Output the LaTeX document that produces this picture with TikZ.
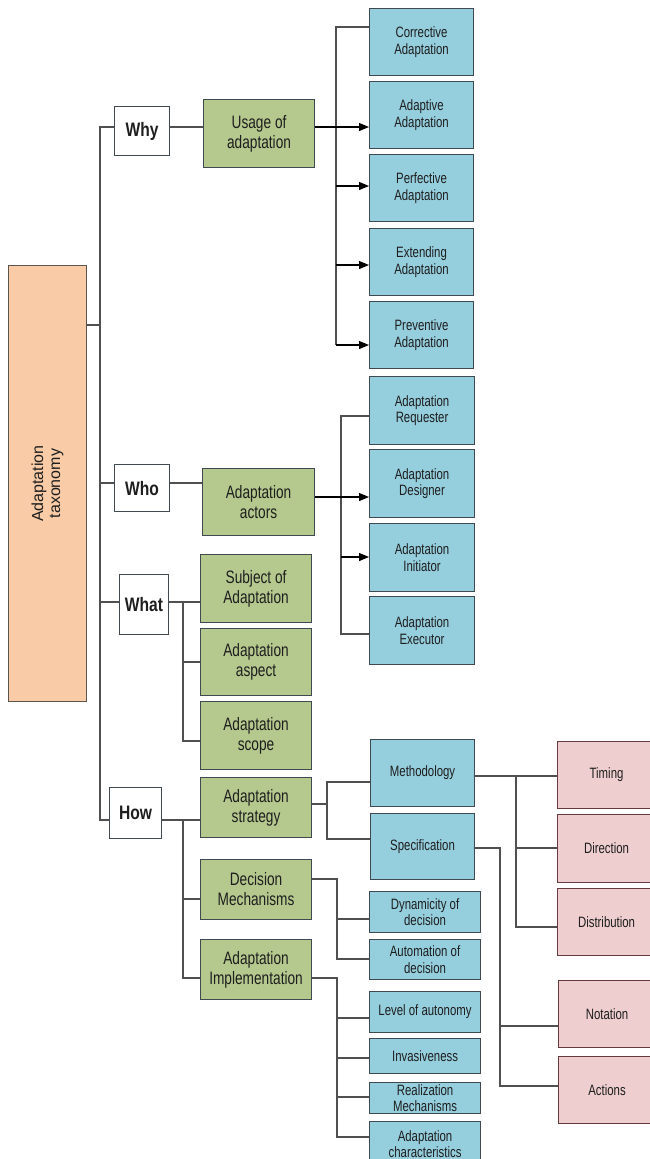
\documentclass[tikz,border=0pt]{standalone}
\usepackage{fontspec}
\setmainfont{Liberation Sans}
\newfontfamily\cf[FakeStretch=0.76]{Liberation Sans}
\newfontfamily\cfb[FakeStretch=0.8]{Liberation Sans Bold}
\usetikzlibrary{arrows.meta}
\definecolor{cOrange}{HTML}{F9CBA7}
\definecolor{cGreen}{HTML}{B5C98E}
\definecolor{cBlue}{HTML}{95CEDD}
\definecolor{cPink}{HTML}{EECECE}
\definecolor{cLine}{HTML}{505050}
\definecolor{cBord}{HTML}{3F4A50}
\definecolor{cTxt}{HTML}{1E1E1E}
\newcommand\bx[7]{\node[#1,anchor=north west,minimum width={(#4)-(#2)},minimum height={(#5)-(#3)}] (#6) at (#2,#3) {#7};}
\begin{document}
\begin{tikzpicture}[x=1pt,y=-1pt,
  box/.style={draw=cBord,line width=1.1pt,inner sep=0pt,align=center,text=cTxt},
  rootbox/.style={box,fill=cOrange,draw=cBord!80!brown},
  qbox/.style={box,fill=white,font=\cfb\fontsize{19.5}{22}\selectfont},
  gbox/.style={box,fill=cGreen,font=\cf\fontsize{18}{20}\selectfont},
  bbox/.style={box,fill=cBlue,font=\cf\fontsize{15}{16.7}\selectfont},
  pbox/.style={box,fill=cPink,draw=cBord!80!red,font=\cf\fontsize{15}{16.7}\selectfont},
  ln/.style={draw=cLine,line width=1.2pt},
  arr/.style={ln,-{Triangle[length=10pt,width=8pt]},color=black}]
\useasboundingbox (0,0) rectangle (650,1159);
\clip (0,0) rectangle (650,1159);
% root
\node[rootbox,anchor=north west,minimum width=78,minimum height=436] (root) at (8,265) {};
\node[rotate=90,align=center,font=\fontsize{16}{17}\selectfont,text=cTxt] (rootT) at (root.center) {Adaptation\\taxonomy};
% question boxes
\bx{qbox}{114}{106}{169}{155}{why}{Why}
\bx{qbox}{114}{464}{169}{511}{who}{Who}
\bx{qbox}{119}{574}{168}{634}{what}{What}
\bx{qbox}{109}{787}{161}{838}{how}{How}
% green boxes
\bx{gbox}{203}{99}{314}{167}{usage}{Usage of\\adaptation}
\bx{gbox}{202}{468}{314}{535}{actors}{Adaptation\\actors}
\bx{gbox}{200}{554}{311}{622}{subject}{Subject of\\Adaptation}
\bx{gbox}{200}{628}{311}{695}{aspect}{Adaptation\\aspect}
\bx{gbox}{200}{701}{311}{769}{nscope}{Adaptation\\scope}
\bx{gbox}{200}{777}{311}{837}{strategy}{Adaptation\\strategy}
\bx{gbox}{200}{859}{311}{919}{decision}{Decision\\Mechanisms}
\bx{gbox}{200}{939}{311}{999}{impl}{Adaptation\\Implementation}
% blue boxes (why)
\bx{bbox}{369}{8}{473}{75}{corr}{Corrective\\Adaptation}
\bx{bbox}{369}{81}{473}{148}{adap}{Adaptive\\Adaptation}
\bx{bbox}{369}{154}{473}{221}{perf}{Perfective\\Adaptation}
\bx{bbox}{369}{228}{473}{295}{ext}{Extending\\Adaptation}
\bx{bbox}{369}{301}{473}{368}{prev}{Preventive\\Adaptation}
% blue boxes (who)
\bx{bbox}{369}{376}{474}{444}{req}{Adaptation\\Requester}
\bx{bbox}{369}{449}{474}{517}{des}{Adaptation\\Designer}
\bx{bbox}{369}{523}{474}{591}{ini}{Adaptation\\Initiator}
\bx{bbox}{369}{596}{474}{664}{exe}{Adaptation\\Executor}
% blue boxes (how)
\bx{bbox}{370}{739}{474}{806}{meth}{Methodology}
\bx{bbox}{370}{813}{474}{879}{spec}{Specification}
\bx{bbox}{369}{891}{480}{932}{dyn}{Dynamicity of\\decision}
\bx{bbox}{369}{939}{480}{979}{auto}{Automation of\\decision}
\bx{bbox}{369}{991}{480}{1032}{lvl}{Level of autonomy}
\bx{bbox}{369}{1038}{480}{1073}{inv}{Invasiveness}
\bx{bbox}{369}{1082}{480}{1113}{real}{Realization\\Mechanisms}
\bx{bbox}{369}{1121}{480}{1166}{char}{Adaptation\\characteristics}
% pink boxes
\bx{pbox}{557}{741}{655}{808}{tim}{Timing}
\bx{pbox}{557}{814}{655}{882}{dir}{Direction}
\bx{pbox}{557}{888}{655}{955}{dist}{Distribution}
\bx{pbox}{558}{980}{655}{1047}{nota}{Notation}
\bx{pbox}{558}{1056}{655}{1123}{act}{Actions}
% trunk
\coordinate (tT) at (100,127);
\coordinate (tB) at (100,820);
\coordinate (rj) at (100,325);
\coordinate (wj) at (100,483);
\coordinate (hj) at (100,602);
\draw[ln] (tT -| why.west) -- (tT) -- (tB) -- (tB -| how.west);
\draw[ln] (rj -| root.east) -- (rj);
\draw[ln] (wj) -- (wj -| who.west);
\draw[ln] (hj) -- (hj -| what.west);
% why branch
\draw[ln] (tT -| why.east) -- (tT -| usage.west);
\coordinate (ub1) at (336,27);
\coordinate (ub2) at (336,345);
\coordinate (ua3) at (336,186);
\coordinate (ua4) at (336,265);
\draw[ln] (ub1 -| corr.west) -- (ub1) -- (ub2);
\draw[arr] (tT -| usage.east) -- (tT -| adap.west);
\draw[arr] (ua3) -- (ua3 -| perf.west);
\draw[arr] (ua4) -- (ua4 -| ext.west);
\draw[arr] (ub2) -- (ub2 -| prev.west);
% who branch
\draw[ln] (wj -| who.east) -- (wj -| actors.west);
\coordinate (ab1) at (341,416);
\coordinate (ab2) at (341,634);
\coordinate (dj) at (341,497);
\coordinate (ij) at (341,557);
\draw[ln] (ab1 -| req.west) -- (ab1) -- (ab2) -- (ab2 -| exe.west);
\draw[arr] (dj -| actors.east) -- (dj -| des.west);
\draw[arr] (ij) -- (ij -| ini.west);
% what branch
\coordinate (wb1) at (183,602);
\coordinate (wb2) at (183,741);
\coordinate (wb3) at (183,662);
\draw[ln] (hj -| what.east) -- (hj -| subject.west);
\draw[ln] (wb1) -- (wb2) -- (wb2 -| nscope.west);
\draw[ln] (wb3) -- (wb3 -| aspect.west);
% how branch
\coordinate (hb1) at (183,820);
\coordinate (hb2) at (183,978);
\coordinate (hb3) at (183,899);
\draw[ln] (tB -| how.east) -- (tB -| strategy.west);
\draw[ln] (hb1) -- (hb2) -- (hb2 -| impl.west);
\draw[ln] (hb3) -- (hb3 -| decision.west);
% strategy
\coordinate (sj) at (327,804);
\coordinate (sb1) at (327,782);
\coordinate (sb2) at (327,839);
\draw[ln] (sj -| strategy.east) -- (sj);
\draw[ln] (sb1 -| meth.west) -- (sb1) -- (sb2) -- (sb2 -| spec.west);
% methodology
\coordinate (mb1) at (516,776);
\coordinate (mb2) at (516,927);
\coordinate (mb3) at (516,848);
\draw[ln] (mb1 -| meth.east) -- (mb1 -| tim.west);
\draw[ln] (mb1) -- (mb2) -- (mb2 -| dist.west);
\draw[ln] (mb3) -- (mb3 -| dir.west);
% specification
\coordinate (pb1) at (500,848);
\coordinate (pb2) at (500,1086);
\coordinate (pb3) at (500,1026);
\draw[ln] (pb1 -| spec.east) -- (pb1) -- (pb2) -- (pb2 -| act.west);
\draw[ln] (pb3) -- (pb3 -| nota.west);
% decision
\coordinate (db1) at (337,879);
\coordinate (db2) at (337,959);
\coordinate (db3) at (337,919);
\draw[ln] (db1 -| decision.east) -- (db1) -- (db2) -- (db2 -| auto.west);
\draw[ln] (db3) -- (db3 -| dyn.west);
% implementation
\coordinate (ib1) at (337,978);
\coordinate (ib2) at (337,1137);
\coordinate (ib3) at (337,1018);
\coordinate (ib4) at (337,1058);
\coordinate (ib5) at (337,1097);
\draw[ln] (ib1 -| impl.east) -- (ib1) -- (ib2) -- (ib2 -| char.west);
\draw[ln] (ib3) -- (ib3 -| lvl.west);
\draw[ln] (ib4) -- (ib4 -| inv.west);
\draw[ln] (ib5) -- (ib5 -| real.west);
\end{tikzpicture}
\end{document}
